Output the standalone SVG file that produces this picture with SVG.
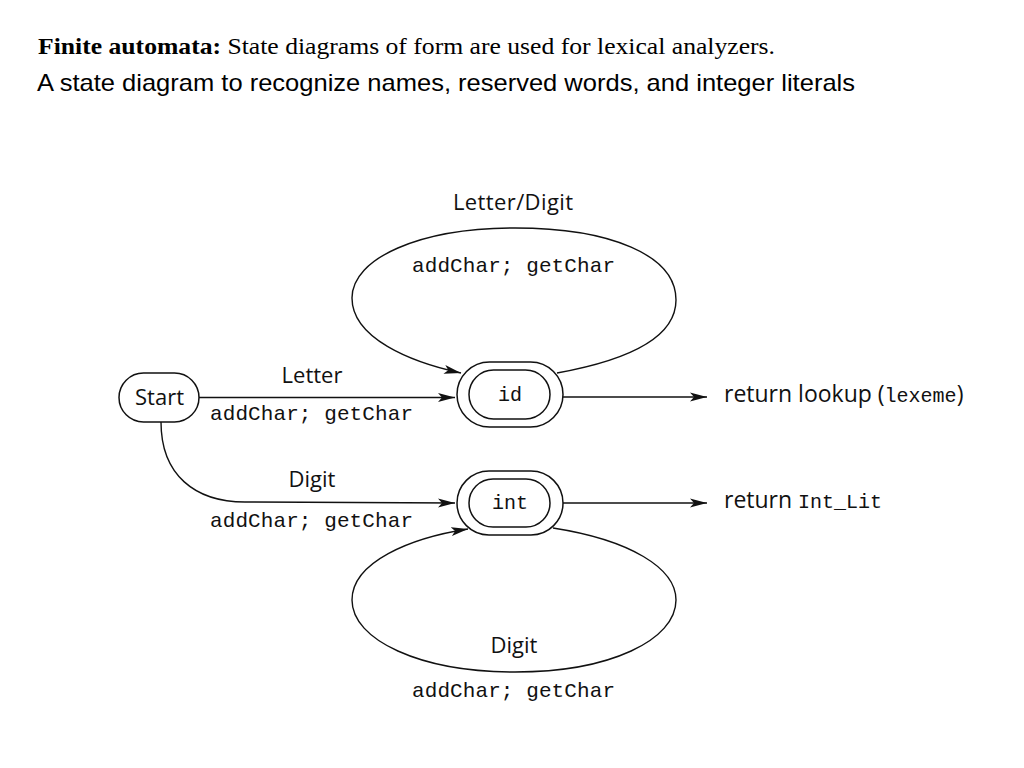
<svg xmlns="http://www.w3.org/2000/svg" width="1024" height="768" viewBox="0 0 1024 768">
<defs>
<style>
.sans{font-family:"Open Sans","Liberation Sans",sans-serif;fill:#111}
.mono{font-family:"Liberation Mono","DejaVu Sans Mono",monospace;fill:#111}
.shape{fill:#fff;stroke:#111;stroke-width:1.5}
.edge{fill:none;stroke:#111;stroke-width:1.4}
</style>
<marker id="arr" markerWidth="18" markerHeight="10" refX="17" refY="5" orient="auto" markerUnits="userSpaceOnUse">
<path d="M0,0.5 L17,5 L0,9.5 L4,5 Z" fill="#111"/>
</marker>
</defs>
<rect width="1024" height="768" fill="#fff"/>
<g id="title">
<text x="38" y="54" font-family="'Liberation Serif',serif" font-size="23" fill="#000" textLength="737" lengthAdjust="spacingAndGlyphs"><tspan font-weight="bold">Finite automata:</tspan> State diagrams of form are used for lexical analyzers.</text>
<text x="37" y="91" font-family="'Liberation Sans',Arial,sans-serif" font-size="24" fill="#000" textLength="818" lengthAdjust="spacingAndGlyphs">A state diagram to recognize names, reserved words, and integer literals</text>
</g>
<g id="connectors">
<path class="edge" d="M199,397.5 L455,397.5" marker-end="url(#arr)"/>
<path class="edge" d="M161,422 C161,475 195,502 245,502 L455,503" marker-end="url(#arr)"/>
<path class="edge" d="M557,373 C640,358 676,332 676,300 C676,255 610,228 515,228 C420,228 352,258 352,298 C352,338 410,362 461,373" marker-end="url(#arr)"/>
<path class="edge" d="M553,528 C630,540 676,568 676,600 C676,640 610,672 515,672 C420,672 352,640 352,600 C352,562 410,538 468,529" marker-end="url(#arr)"/>
<path class="edge" d="M563,397 L707,397" marker-end="url(#arr)"/>
<path class="edge" d="M563,503 L707,503" marker-end="url(#arr)"/>
</g>
<g id="edge-labels">
<text class="sans" x="312" y="383" font-size="22" text-anchor="middle">Letter</text>
<text class="mono" x="311.5" y="420" font-size="21" text-anchor="middle" textLength="203">addChar; getChar</text>
<text class="sans" x="312" y="487" font-size="22" text-anchor="middle">Digit</text>
<text class="mono" x="311.5" y="527" font-size="21" text-anchor="middle" textLength="203">addChar; getChar</text>
<text class="sans" x="513" y="210" font-size="22" text-anchor="middle" textLength="120">Letter/Digit</text>
<text class="mono" x="513.5" y="272" font-size="21" text-anchor="middle" textLength="203">addChar; getChar</text>
<text class="sans" x="514" y="653" font-size="22" text-anchor="middle">Digit</text>
<text class="mono" x="513.5" y="697" font-size="21" text-anchor="middle" textLength="203">addChar; getChar</text>
</g>
<g id="node-start">
<rect class="shape" x="119" y="373" width="80" height="49" rx="24.5"/>
<text class="sans" x="159.5" y="405" font-size="22" text-anchor="middle">Start</text>
</g>
<g id="node-id">
<rect class="shape" x="457" y="362" width="106" height="65" rx="32.5"/>
<rect class="shape" x="469" y="370" width="81" height="49" rx="24.5"/>
<text class="mono" x="510" y="401" font-size="20" text-anchor="middle">id</text>
</g>
<g id="node-int">
<rect class="shape" x="457" y="471" width="106" height="64" rx="32"/>
<rect class="shape" x="469" y="479" width="81" height="48" rx="24"/>
<text class="mono" x="510" y="509" font-size="20" text-anchor="middle">int</text>
</g>
<g id="output-labels">
<text class="sans" x="724" y="402" font-size="23">return lookup (<tspan class="mono" font-size="20">lexeme</tspan>)</text>
<text class="sans" x="724" y="508" font-size="23">return <tspan class="mono" font-size="20">Int_Lit</tspan></text>
</g>
</svg>
